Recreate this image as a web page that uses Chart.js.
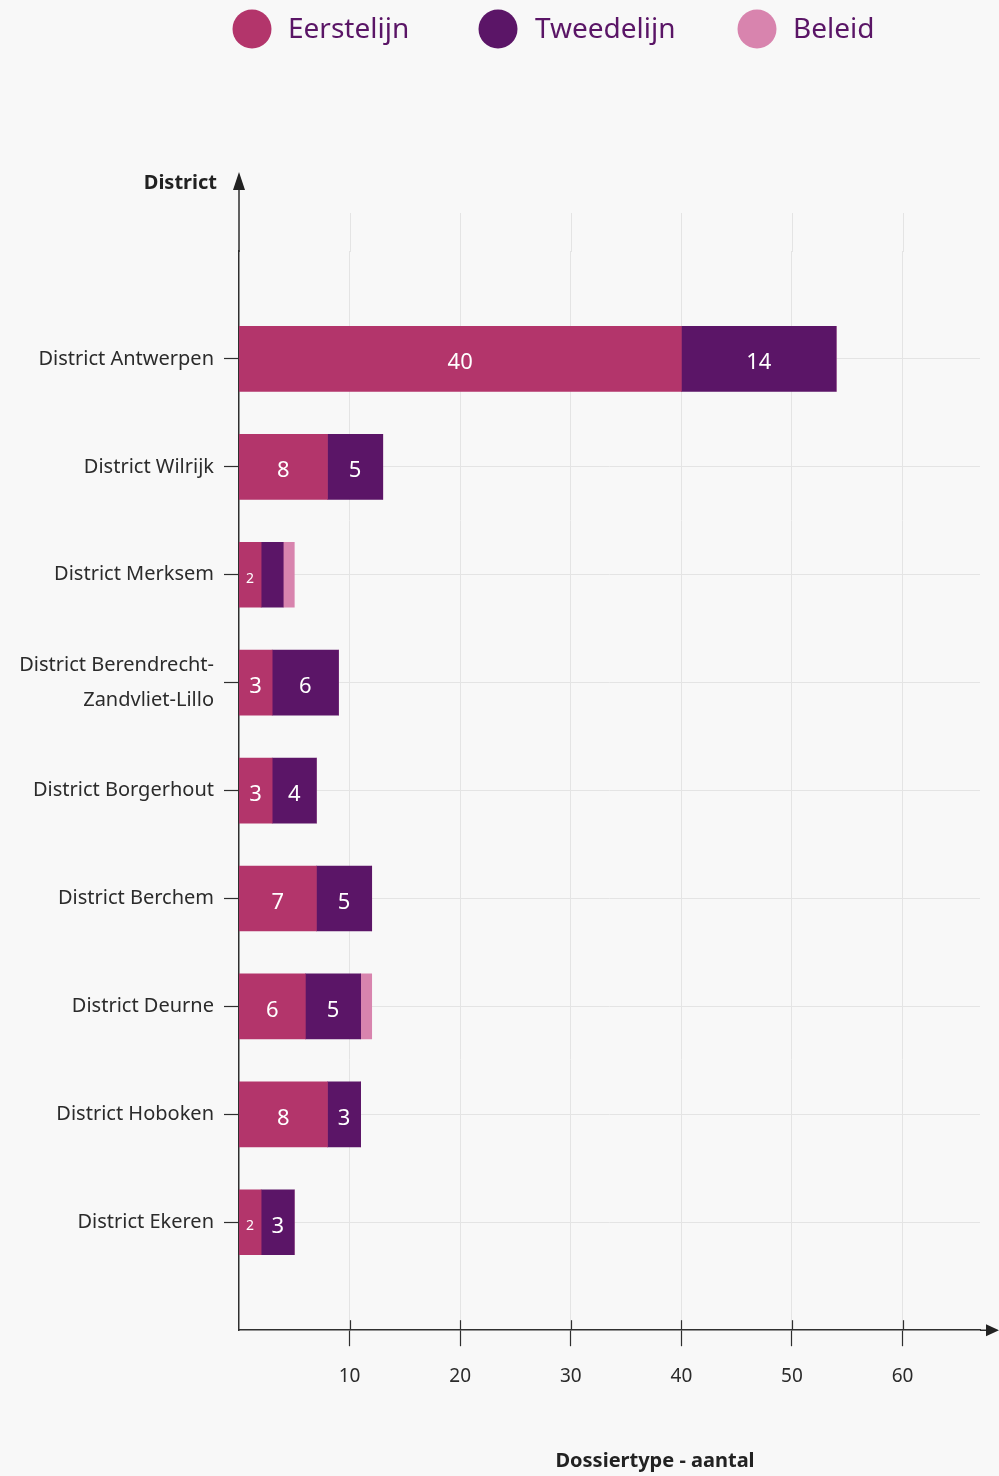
<!DOCTYPE html>
<html>
<head>
<meta charset="utf-8">
<script src="https://cdn.jsdelivr.net/npm/chart.js@4/dist/chart.umd.min.js"></script>
<style>
  html, body { margin: 0; padding: 0; background: #f8f8f8; }
  #wrap { width: 999px; height: 1476px; position: relative; }
</style>
</head>
<body>
<div id="wrap"><canvas id="c" width="999" height="1476"></canvas></div>
<script>
// Districts (blank entries keep some room above and below the bars)
const categories = [
  '',
  'District Antwerpen',
  'District Wilrijk',
  'District Merksem',
  ['District Berendrecht-', 'Zandvliet-Lillo'],
  'District Borgerhout',
  'District Berchem',
  'District Deurne',
  'District Hoboken',
  'District Ekeren',
  ''
];
const eerstelijn = [null, 40, 8, 2, 3, 3, 7, 6, 8, 2, null];
const tweedelijn = [null, 14, 5, 2, 6, 4, 5, 5, 3, 3, null];
const beleid     = [null, 0, 0, 1, 0, 0, 0, 1, 0, 0, null];
const xTicks = [10, 20, 30, 40, 50, 60];

const FONT = '"Noto Sans", "Open Sans", sans-serif';
const AXIS = '#2f2f2f';
const GRID = '#e4e4e4';
const COLORS = { eerste: '#b3356b', tweede: '#5b1567', beleid: '#d884ae' };

// Legend, axis arrows, axis titles and extended grid lines
const decorations = {
  id: 'decorations',
  beforeDatasetsDraw(chart) {
    const { ctx, chartArea, scales } = chart;
    ctx.save();
    ctx.strokeStyle = GRID;
    ctx.lineWidth = 1;
    xTicks.forEach(v => {
      const x = Math.round(scales.x.getPixelForValue(v)) + 0.5;
      ctx.beginPath();
      ctx.moveTo(x, 213);
      ctx.lineTo(x, chartArea.top + 1);
      ctx.stroke();
    });
    ctx.restore();
  },
  afterDraw(chart) {
    const { ctx, chartArea, scales } = chart;
    ctx.save();
    // axis extensions + arrows
    ctx.strokeStyle = AXIS;
    ctx.fillStyle = '#222';
    ctx.lineWidth = 1.5;
    const x0 = chartArea.left;
    const yb = chartArea.bottom;
    ctx.beginPath();
    ctx.moveTo(x0, chartArea.top + 1);
    ctx.lineTo(x0, 186);
    ctx.moveTo(chartArea.right, yb);
    ctx.lineTo(990, yb);
    ctx.stroke();
    ctx.beginPath();
    ctx.moveTo(x0, 172);
    ctx.lineTo(x0 - 6, 190);
    ctx.lineTo(x0 + 6, 190);
    ctx.closePath();
    ctx.fill();
    ctx.beginPath();
    ctx.moveTo(999, yb);
    ctx.lineTo(986, yb - 6);
    ctx.lineTo(986, yb + 6);
    ctx.closePath();
    ctx.fill();
    // tick marks crossing above the x axis
    ctx.lineWidth = 1.2;
    xTicks.forEach(v => {
      const x = Math.round(scales.x.getPixelForValue(v)) + 0.5;
      ctx.beginPath();
      ctx.moveTo(x, yb - 10);
      ctx.lineTo(x, yb);
      ctx.stroke();
    });
    // axis titles
    ctx.fillStyle = '#222';
    ctx.font = 'bold 20px ' + FONT;
    ctx.textBaseline = 'middle';
    ctx.textAlign = 'right';
    ctx.fillText('District', 217, 183);
    ctx.textAlign = 'center';
    ctx.fillText('Dossiertype - aantal', 655, 1461);
    // legend
    const legendPos = [[252, 288], [498, 535], [757, 793]];
    ctx.font = '28px ' + FONT;
    ctx.textAlign = 'left';
    chart.data.datasets.forEach((ds, i) => {
      const [cx, tx] = legendPos[i];
      ctx.fillStyle = ds.backgroundColor;
      ctx.beginPath();
      ctx.arc(cx, 29, 19.5, 0, Math.PI * 2);
      ctx.fill();
      ctx.fillStyle = '#5a1566';
      ctx.fillText(ds.label, tx, 30);
    });
    ctx.restore();
  }
};

// White value labels inside the segments
const barValues = {
  id: 'barValues',
  afterDatasetsDraw(chart) {
    const { ctx } = chart;
    ctx.save();
    ctx.fillStyle = '#ffffff';
    ctx.textAlign = 'center';
    ctx.textBaseline = 'middle';
    [0, 1].forEach(di => {
      const meta = chart.getDatasetMeta(di);
      const data = chart.data.datasets[di].data;
      meta.data.forEach((bar, i) => {
        const v = data[i];
        if (v == null || v === 0) return;
        if (di === 1 && v < 3) return;
        ctx.font = (v < 3 ? '14px ' : '22px ') + FONT;
        ctx.fillText(String(v), (bar.x + bar.base) / 2, bar.y + 4);
      });
    });
    ctx.restore();
  }
};

new Chart(document.getElementById('c'), {
  type: 'bar',
  data: {
    labels: categories,
    datasets: [
      { label: 'Eerstelijn', data: eerstelijn, backgroundColor: COLORS.eerste },
      { label: 'Tweedelijn', data: tweedelijn, backgroundColor: COLORS.tweede },
      { label: 'Beleid', data: beleid, backgroundColor: COLORS.beleid }
    ]
  },
  options: {
    indexAxis: 'y',
    responsive: false,
    animation: false,
    devicePixelRatio: 1,
    barThickness: 65,
    layout: { padding: { top: 251, right: 19, bottom: 69, left: 0 } },
    plugins: { legend: { display: false }, tooltip: { enabled: false } },
    scales: {
      x: {
        stacked: true,
        min: 0,
        max: 67,
        border: { display: true, color: AXIS, width: 1.5 },
        grid: {
          color: c => (c.tick && c.tick.value === 0 ? 'rgba(0,0,0,0)' : GRID),
          tickColor: c => (c.tick && c.tick.value === 0 ? 'rgba(0,0,0,0)' : AXIS),
          tickLength: 16,
          tickWidth: 1.2
        },
        afterBuildTicks: s => { s.ticks = xTicks.map(v => ({ value: v })); },
        ticks: {
          color: '#2b2b2b',
          padding: 19,
          font: { family: FONT, size: 19 },
          maxRotation: 0
        }
      },
      y: {
        stacked: true,
        offset: false,
        afterFit: s => { s.width = 239; },
        border: { display: true, color: AXIS, width: 1.5 },
        grid: {
          offset: false,
          color: c => (c.index === 0 || c.index === categories.length - 1 ? 'rgba(0,0,0,0)' : GRID),
          tickColor: c => (c.index === 0 || c.index === categories.length - 1 ? 'rgba(0,0,0,0)' : AXIS),
          tickLength: 15,
          tickWidth: 1.2
        },
        ticks: {
          color: '#2b2b2b',
          padding: 10,
          font: { family: FONT, size: 20, lineHeight: 1.75 },
          autoSkip: false
        }
      }
    }
  },
  plugins: [decorations, barValues]
});
</script>
</body>
</html>
